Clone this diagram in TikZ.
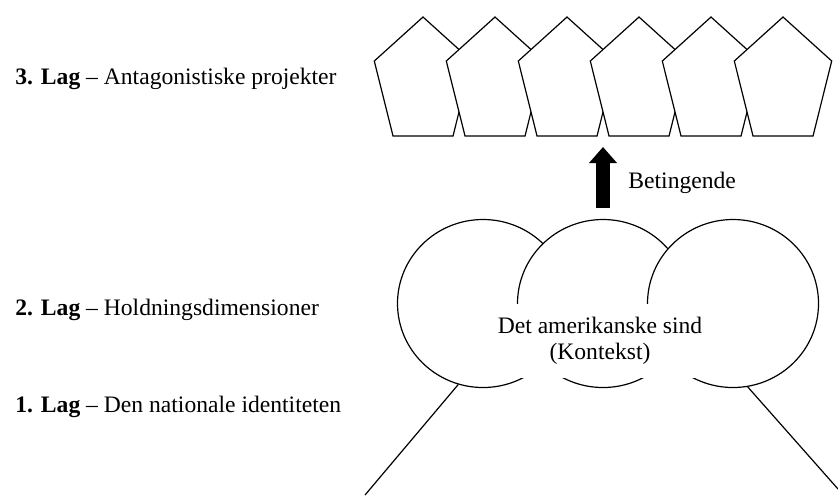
\documentclass[tikz,border=0pt]{standalone}
\usepackage{fontspec}
\setmainfont{Liberation Serif}
\usetikzlibrary{shapes.geometric,arrows.meta}
\tikzset{
  thinline/.style={line width=0.6pt, draw=black},
  penta/.style={thinline, fill=white, line join=miter},
  ring/.style={ellipse, thinline, fill=white, inner sep=0pt, minimum width=85.5pt, minimum height=84pt},
  txt/.style={inner sep=0pt, font=\fontsize{11.8pt}{13pt}\selectfont},
  ctxbox/.style={txt, fill=white, align=center, minimum width=114pt, minimum height=37pt},
  bigarrow/.style={line width=7pt, -{Triangle[width=13.5pt,length=8pt]}}
}
\begin{document}
\begin{tikzpicture}[x=0.5pt,y=-0.5pt]
\useasboundingbox (0,0) rectangle (838,495);
\fill[white] (0,0) rectangle (838,495);
% layer labels
\node[txt, anchor=base west] (l3) at (15,84) {\textbf{3. Lag} – Antagonistiske projekter};
\node[txt, anchor=base west] (l2) at (15,315) {\textbf{2. Lag} – Holdningsdimensioner};
\node[txt, anchor=base west] (l1) at (15,412) {\textbf{1. Lag} – Den nationale identiteten};
% pentagons
\foreach \c in {423,495,567,639,711,783}{
  \draw[penta] (\c,17) -- ({\c+48.7},61) -- ({\c+30},136) -- ({\c-30},136) -- ({\c-48.7},61) -- cycle;
}
% circles
\node[ring] (c1) at (483,303.5) {};
\node[ring] (c2) at (603,303.5) {};
\node[ring] (c3) at (733,303.5) {};
\node[ctxbox] (ctx) at (600,340.5) {Det amerikanske sind\\(Kontekst)};
% lines
\coordinate (e1) at (365,495);
\coordinate (e3) at (838,489);
\draw[thinline] (c1.-107) -- (e1);
\draw[thinline] (c3.-80) -- (e3);
% arrow
\coordinate (as) at (603,208);
\coordinate (ae) at (603,147);
\draw[bigarrow] (as) -- (ae);
\node[txt, anchor=base west] (bet) at (628,188) {Betingende};
\end{tikzpicture}
\end{document}
